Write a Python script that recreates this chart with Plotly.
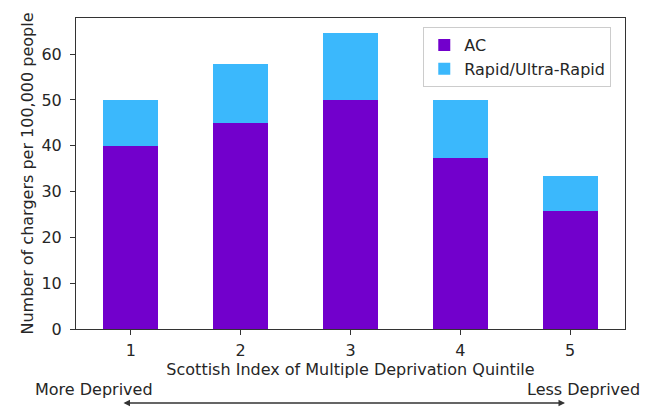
import plotly.graph_objects as go

quintiles = [1, 2, 3, 4, 5]
tick_labels = ["1", "2", "3", "4", "5"]
ac_values = [40.0, 45.0, 50.0, 37.3, 25.8]
rapid_values = [10.0, 12.8, 14.7, 12.7, 7.5]

AC_COLOR = "#7200CC"
RAPID_COLOR = "#3BB8FC"
TEXT = "#262626"
FONT = "DejaVu Sans"
FS = 16

fig = go.Figure()
fig.add_trace(go.Bar(x=quintiles, y=ac_values, name="AC",
                     marker=dict(color=AC_COLOR, line=dict(width=0)), width=0.5))
fig.add_trace(go.Bar(x=quintiles, y=rapid_values, name="Rapid/Ultra-Rapid",
                     marker=dict(color=RAPID_COLOR, line=dict(width=0)), width=0.5))

# page body has an 8px margin, so the figure is shrunk by 8px and offset
fig.update_layout(
    barmode="stack",
    width=640, height=399,
    margin=dict(l=68, r=23, t=10, b=78),
    paper_bgcolor="white", plot_bgcolor="white",
    font=dict(family=FONT, size=FS, color=TEXT),
    showlegend=True,
    legend=dict(x=0.975, y=0.971, xanchor="right", yanchor="top", traceorder="normal",
                bordercolor="#cccccc", borderwidth=1, bgcolor="white",
                font=dict(size=FS, color=TEXT), tracegroupgap=0),
    xaxis=dict(range=[0.5, 5.5], tickmode="array", tickvals=quintiles, ticktext=tick_labels,
               showline=True, linecolor="#333333", linewidth=1, mirror=True,
               ticks="outside", ticklen=5, tickcolor="#333333", showgrid=False, zeroline=False,
               ticklabelstandoff=2,
               title=dict(text="Scottish Index of Multiple Deprivation Quintile", standoff=4,
                          font=dict(size=FS, color=TEXT))),
    yaxis=dict(range=[0, 67.9], tickmode="array", tickvals=[0, 10, 20, 30, 40, 50, 60],
               showline=True, linecolor="#333333", linewidth=1, mirror=True,
               ticks="outside", ticklen=5, tickcolor="#333333", showgrid=False, zeroline=False,
               ticklabelstandoff=5,
               title=dict(text="Number of chargers per 100,000 people", standoff=3,
                          font=dict(size=FS, color=TEXT))),
)

fig.add_annotation(xref="paper", yref="paper", x=-0.078, y=-0.193, text="More Deprived",
                   showarrow=False, font=dict(size=FS, color=TEXT), xanchor="left", yanchor="middle")
fig.add_annotation(xref="paper", yref="paper", x=1.031, y=-0.193, text="Less Deprived",
                   showarrow=False, font=dict(size=FS, color=TEXT), xanchor="right", yanchor="middle")
fig.add_annotation(xref="paper", yref="paper", x=0.8907, y=-0.238, ax=-443, ay=0,
                   axref="pixel", ayref="pixel", text="", showarrow=True,
                   arrowhead=2, startarrowhead=2, arrowside="end+start",
                   arrowsize=1, arrowwidth=1.3, arrowcolor="#333333")

fig.write_html("out.html")
